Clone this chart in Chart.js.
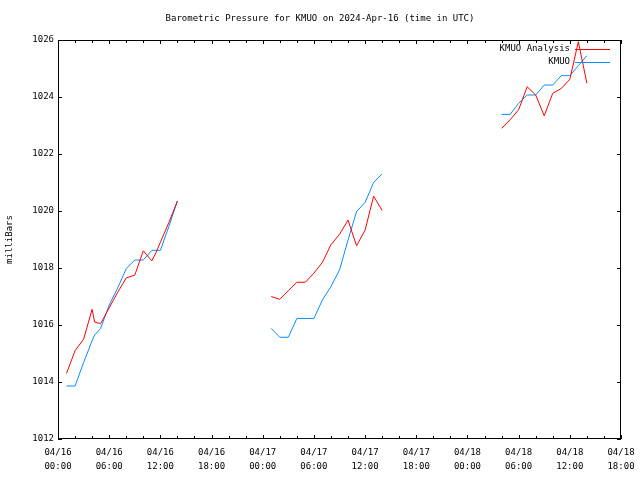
<!DOCTYPE html>
<html lang="en">
<head>
    <meta charset="UTF-8">
    <title>Barometric Pressure for KMUO</title>
    <script src="https://cdn.jsdelivr.net/npm/chart.js"></script>
    <style>
        html, body {
            margin: 0;
            padding: 0;
            background: #ffffff;
        }
        canvas {
            display: block;
        }
    </style>
</head>
<body>
    <canvas id="grafico" width="640" height="480"></canvas>

    <script>
        // hours since 04/16 00:00 UTC (null breaks the line)
        const horas = [
            1, 2, 3, 4, 4.3, 5, 6, 7, 8, 9, 10, 11, 11.5, 12, 13, 14,
            20,
            25, 26, 27, 28, 29, 30, 31, 32, 33, 34, 35, 36, 37, 38,
            45,
            52, 53, 54, 55, 56, 57, 58, 59, 60, 61, 62
        ];
        const analise = [
            1014.30, 1015.10, 1015.50, 1016.55, 1016.10, 1016.05, 1016.60, 1017.15, 1017.65, 1017.75, 1018.60, 1018.25, 1018.55, 1018.90, 1019.60, 1020.35,
            null,
            1017.00, 1016.90, 1017.20, 1017.50, 1017.50, 1017.82, 1018.20, 1018.82, 1019.18, 1019.68, 1018.78, 1019.33, 1020.52, 1020.02,
            null,
            1022.90, 1023.20, 1023.55, 1024.36, 1024.07, 1023.34, 1024.13, 1024.30, 1024.62, 1025.94, 1024.48
        ];
        const observado = [
            1013.86, 1013.86, 1014.68, 1015.45, 1015.65, 1015.88, 1016.70, 1017.30, 1017.98, 1018.28, 1018.28, 1018.62, 1018.62, 1018.62, 1019.46, 1020.35,
            null,
            1015.88, 1015.57, 1015.57, 1016.23, 1016.23, 1016.23, 1016.88, 1017.35, 1017.93, 1018.98, 1019.98, 1020.30, 1021.00, 1021.30,
            null,
            1023.39, 1023.39, 1023.78, 1024.07, 1024.07, 1024.42, 1024.42, 1024.75, 1024.75, 1025.10, 1025.45
        ];
        const series = ["KMUO Analysis", "KMUO"];
        const cores = ["#ff0000", "#0a8cff"];
        const diasTick = ["04/16", "04/16", "04/16", "04/16", "04/17", "04/17", "04/17", "04/17", "04/18", "04/18", "04/18", "04/18"];
        const horasTick = ["00:00", "06:00", "12:00", "18:00", "00:00", "06:00", "12:00", "18:00", "00:00", "06:00", "12:00", "18:00"];
        const titulo = "Barometric Pressure for KMUO on 2024-Apr-16 (time in UTC)";
        const rotuloY = "milliBars";

        const fonte = "'DejaVu Sans Mono', 'Liberation Mono', monospace";

        function pontos(valores) {
            return horas.map((h, i) => ({ x: h, y: valores[i] }));
        }

        function semPadding(scale) {
            scale.paddingLeft = 0;
            scale.paddingRight = 0;
            scale.paddingTop = 0;
            scale.paddingBottom = 0;
        }

        // gnuplot style frame: border, inward ticks on all sides, title, legend
        const moldura = {
            id: "moldura",
            afterDraw(chart) {
                const ctx = chart.ctx;
                const a = chart.chartArea;
                const sx = chart.scales.x;
                const sy = chart.scales.y;
                ctx.save();
                ctx.strokeStyle = "#000";
                ctx.lineWidth = 1;
                ctx.strokeRect(a.left + 0.5, a.top + 0.5, a.right - a.left - 1, a.bottom - a.top - 1);

                ctx.beginPath();
                for (let h = 0; h <= 66; h += 2) {
                    const px = Math.round(sx.getPixelForValue(h)) + 0.5;
                    const len = h % 6 === 0 ? 4 : 3;
                    ctx.moveTo(px, a.bottom);
                    ctx.lineTo(px, a.bottom - len);
                    ctx.moveTo(px, a.top);
                    ctx.lineTo(px, a.top + len);
                }
                for (let v = 1012; v <= 1026; v += 2) {
                    const py = Math.round(sy.getPixelForValue(v)) + 0.5;
                    ctx.moveTo(a.left, py);
                    ctx.lineTo(a.left + 4, py);
                    ctx.moveTo(a.right, py);
                    ctx.lineTo(a.right - 4, py);
                }
                ctx.stroke();

                ctx.fillStyle = "#000";
                ctx.font = "9px " + fonte;
                ctx.textBaseline = "middle";
                ctx.textAlign = "center";
                ctx.fillText(titulo, 320, 19);

                ctx.save();
                ctx.translate(10, (a.top + a.bottom) / 2);
                ctx.rotate(-Math.PI / 2);
                ctx.fillText(rotuloY, 0, 0);
                ctx.restore();

                chart.data.datasets.forEach((ds, i) => {
                    const ly = 49 + i * 13;
                    ctx.textAlign = "right";
                    ctx.fillStyle = "#000";
                    ctx.fillText(ds.label, 570, ly);
                    ctx.strokeStyle = ds.borderColor;
                    ctx.beginPath();
                    ctx.moveTo(575, ly + 0.5);
                    ctx.lineTo(610, ly + 0.5);
                    ctx.stroke();
                });
                ctx.restore();
            }
        };

        const ctx = document.getElementById("grafico").getContext("2d");
        new Chart(ctx, {
            type: "line",
            data: {
                datasets: [
                    {
                        label: series[0],
                        data: pontos(analise),
                        borderColor: cores[0],
                        borderWidth: 1,
                        pointRadius: 0,
                        tension: 0,
                        spanGaps: false
                    },
                    {
                        label: series[1],
                        data: pontos(observado),
                        borderColor: cores[1],
                        borderWidth: 1,
                        pointRadius: 0,
                        tension: 0,
                        spanGaps: false
                    }
                ]
            },
            options: {
                responsive: false,
                animation: false,
                layout: {
                    padding: { top: 40, right: 19, left: 0, bottom: 0 }
                },
                plugins: {
                    legend: { display: false },
                    title: { display: false },
                    tooltip: { enabled: false }
                },
                scales: {
                    x: {
                        type: "linear",
                        min: 0,
                        max: 66,
                        grid: { display: false, drawTicks: false },
                        border: { display: false },
                        ticks: {
                            stepSize: 6,
                            autoSkip: false,
                            maxRotation: 0,
                            padding: 7,
                            color: "#000",
                            font: { family: fonte, size: 9, lineHeight: 1.55 },
                            callback: (v) => {
                                const i = Math.round(v / 6);
                                return [diasTick[i], horasTick[i]];
                            }
                        },
                        afterFit: (scale) => {
                            scale.height = 41;
                            semPadding(scale);
                        }
                    },
                    y: {
                        min: 1012,
                        max: 1026,
                        grid: { display: false, drawTicks: false },
                        border: { display: false },
                        ticks: {
                            stepSize: 2,
                            padding: 4,
                            color: "#000",
                            font: { family: fonte, size: 9 },
                            callback: (v) => String(v)
                        },
                        afterFit: (scale) => {
                            scale.width = 58;
                            semPadding(scale);
                        }
                    }
                }
            },
            plugins: [moldura]
        });
    </script>
</body>
</html>
